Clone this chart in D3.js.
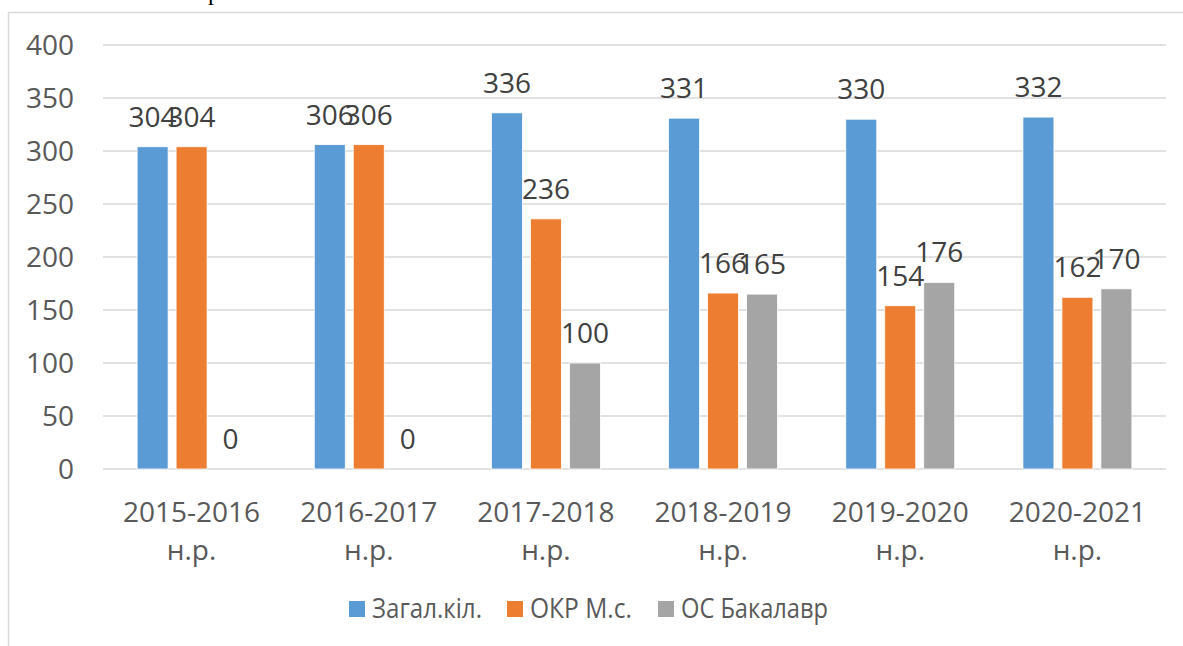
<!DOCTYPE html>
<html lang="uk">
<head>
  <meta charset="UTF-8">
  <title>Кількість студентів</title>
  <script src="https://d3js.org/d3.v7.min.js"></script>
  <style>
    body { margin: 0; background: #fff; }
    svg { display: block; font-family: "Open Sans", "Noto Sans", sans-serif; }
    .grid line { stroke: #d9d9d9; stroke-width: 1.5px; }
    .tick-label { fill: #595959; font-size: 28px; }
    .val { fill: #404040; font-size: 28px; }
    .legend text { fill: #595959; font-size: 27px; }
  </style>
</head>
<body>
  <div id="chart"></div>
  <script>
    const years = ['2015-2016', '2016-2017', '2017-2018', '2018-2019', '2019-2020', '2020-2021'];
    const seriesNames = ['Загал.кіл.', 'ОКР М.с.', 'ОС Бакалавр'];
    const total = [304, 306, 336, 331, 330, 332];
    const masters = [304, 306, 236, 166, 154, 162];
    const bachelors = [0, 0, 100, 165, 176, 170];
    const yTicks = [0, 50, 100, 150, 200, 250, 300, 350, 400];
    const colors = ['#5b9bd5', '#ed7d31', '#a5a5a5'];
    const series = [total, masters, bachelors];

    const W = 1183, H = 646;
    const svg = d3.select('#chart').append('svg').attr('width', W).attr('height', H);

    // bit of the page text above the chart
    svg.append('text').attr('x', 208).attr('y', 0)
      .style('font-family', '"Liberation Serif", serif').style('font-size', '24px')
      .attr('fill', '#000').text('р');

    // chart frame (runs off the right and bottom)
    svg.append('path').attr('d', `M8.5,${H}V12.5H${W}`)
      .attr('fill', 'none').attr('stroke', '#d9d9d9').attr('stroke-width', 1.5);

    const x = d3.scaleBand().domain(years).range([103, 1166]);
    const y = d3.scaleLinear().domain([0, 400]).range([469, 45]);
    const groupW = x.bandwidth() * 0.615;
    const xs = d3.scaleBand().domain(d3.range(3)).range([-groupW / 2, groupW / 2]).paddingInner(0.205);

    svg.append('g').attr('class', 'grid')
      .selectAll('line').data(yTicks).join('line')
      .attr('x1', 103).attr('x2', 1166)
      .attr('y1', d => y(d)).attr('y2', d => y(d));

    svg.append('g').selectAll('text').data(yTicks).join('text')
      .attr('class', 'tick-label')
      .attr('x', 74).attr('y', d => y(d) + 10)
      .attr('text-anchor', 'end').text(d => d);

    const xl = svg.append('g').selectAll('text').data(years).join('text')
      .attr('class', 'tick-label').attr('text-anchor', 'middle')
      .attr('x', d => x(d) + x.bandwidth() / 2).attr('y', 522);
    xl.append('tspan').attr('x', d => x(d) + x.bandwidth() / 2).text(d => d);
    xl.append('tspan').attr('x', d => x(d) + x.bandwidth() / 2).attr('dy', 38).text('н.р.');

    series.forEach((vals, si) => {
      const g = svg.append('g');
      const cx = (d, i) => x(years[i]) + x.bandwidth() / 2 + xs(si);
      g.selectAll('rect').data(vals).join('rect')
        .attr('x', cx).attr('width', xs.bandwidth())
        .attr('y', d => y(d)).attr('height', d => y(0) - y(d))
        .attr('fill', colors[si]).attr('stroke', '#fff').attr('stroke-width', 0.8);
      g.selectAll('text').data(vals).join('text')
        .attr('class', 'val').attr('text-anchor', 'middle')
        .attr('x', (d, i) => cx(d, i) + xs.bandwidth() / 2)
        .attr('y', d => y(d) - 20).text(d => d);
    });

    // legend: Calibri-like narrow text, squeezed to the reference widths
    const legendX = [349, 507, 658];
    const legendTextW = [110, 102, 147];
    const lg = svg.append('g').attr('class', 'legend')
      .selectAll('g').data(seriesNames).join('g')
      .attr('transform', (d, i) => `translate(${legendX[i]},601)`);
    lg.append('rect').attr('width', 16).attr('height', 16).attr('fill', (d, i) => colors[i]);
    lg.append('text').attr('x', 23).attr('y', 17)
      .attr('textLength', (d, i) => legendTextW[i]).attr('lengthAdjust', 'spacingAndGlyphs')
      .text(d => d);
  </script>
</body>
</html>
